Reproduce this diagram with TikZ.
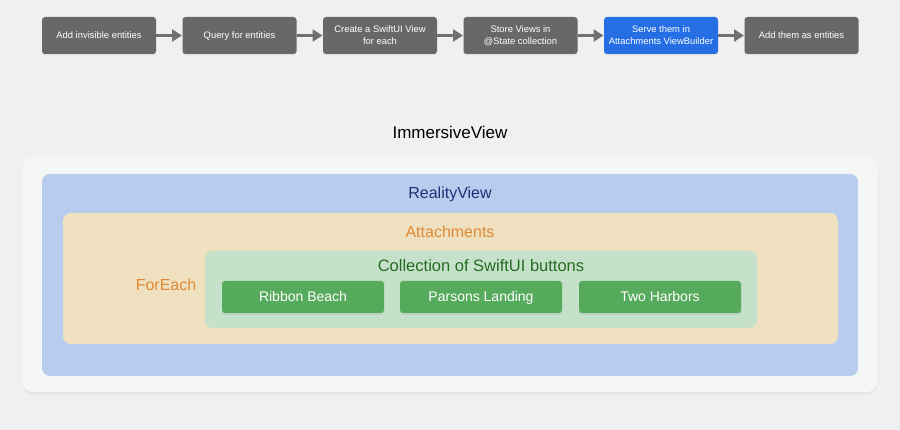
\documentclass[tikz,border=0pt]{standalone}
\usepackage{fontspec}
\setmainfont{Liberation Sans}
\usetikzlibrary{positioning,arrows.meta,shadows}
\definecolor{bggray}{RGB}{239,240,240}
\definecolor{stepgray}{RGB}{104,104,104}
\definecolor{stepblue}{RGB}{38,110,228}
\definecolor{arrowgray}{RGB}{112,112,112}
\definecolor{panelwhite}{RGB}{245,246,246}
\definecolor{realblue}{RGB}{184,204,237}
\definecolor{realtext}{RGB}{28,48,118}
\definecolor{attbeige}{RGB}{239,224,192}
\definecolor{atttext}{RGB}{224,138,52}
\definecolor{collgreen}{RGB}{197,225,201}
\definecolor{colltext}{RGB}{38,108,34}
\definecolor{btngreen}{RGB}{86,170,91}

\tikzset{
  stepbox/.style={fill=stepgray, rounded corners=3pt, minimum width=114pt, minimum height=37pt,
    inner sep=0pt, outer sep=0pt, align=center, text=white, font=\fontsize{9.4}{12}\selectfont,
    text depth=0pt,
    drop shadow={opacity=0.12, shadow xshift=0pt, shadow yshift=-1.5pt}},
  oneline/.style={text height=7pt},
  steparrow/.style={arrowgray, line width=2.8pt, -{Triangle[length=10pt, width=12pt]}, shorten >=0.5pt},
  panel/.style={inner sep=0pt, outer sep=0pt, rounded corners=8pt},
  btnbox/.style={fill=btngreen, rounded corners=3pt, minimum width=162pt, minimum height=32pt,
    inner sep=0pt, text=white, font=\fontsize{14}{16}\selectfont, text height=10pt, text depth=0pt,
    drop shadow={opacity=0.12, shadow xshift=0pt, shadow yshift=-2pt}},
}

\begin{document}
\begin{tikzpicture}[x=1pt, y=-1pt]

% Background
\fill[bggray] (0,0) rectangle (900,430);
\useasboundingbox (0,0) rectangle (900,430);

% Pipeline
\node[stepbox, oneline] (add) at (99,35.5) {Add invisible entities};
\node[stepbox, oneline, right=26.5pt of add] (query) {Query for entities};
\node[stepbox, right=26.5pt of query] (create) {Create a SwiftUI View\\for each};
\node[stepbox, right=26.5pt of create] (store) {Store Views in\\@State collection};
\node[stepbox, fill=stepblue, right=26.5pt of store] (serve) {Serve them in\\Attachments ViewBuilder};
\node[stepbox, oneline, right=26.5pt of serve] (addent) {Add them as entities};

\draw[steparrow] (add) -- (query);
\draw[steparrow] (query) -- (create);
\draw[steparrow] (create) -- (store);
\draw[steparrow] (store) -- (serve);
\draw[steparrow] (serve) -- (addent);

% Title
\node[font=\fontsize{17}{20}\selectfont] (immersive) at (450,132) {ImmersiveView};

% Nested views
\node[panel, rounded corners=10pt, fill=panelwhite, minimum width=854pt, minimum height=235pt,
  drop shadow={opacity=0.08, shadow xshift=0pt, shadow yshift=-3pt}] (outer) at (450,274.5) {};
\node[panel, fill=realblue, minimum width=816pt, minimum height=202pt] (reality) at (450,275) {};
\node[panel, fill=attbeige, minimum width=775pt, minimum height=131pt] (attach) at (450.5,278.5) {};
\node[panel, fill=collgreen, minimum width=552pt, minimum height=77pt] (coll) at (481,289.5) {};

% Labels
\node[text=realtext, font=\fontsize{16}{19}\selectfont] (realitylbl) at (450,194) {RealityView};
\node[text=atttext, font=\fontsize{16}{19}\selectfont] (attachlbl) at (450,232) {Attachments};
\node[text=atttext, font=\fontsize{16}{19}\selectfont] (foreachlbl) at (166,285) {ForEach};
\node[text=colltext, font=\fontsize{16.5}{19}\selectfont] (colllbl) at (481,266) {Collection of SwiftUI buttons};

% Buttons
\node[btnbox] (ribbon) at (303,297) {Ribbon Beach};
\node[btnbox] (parsons) at (481,297) {Parsons Landing};
\node[btnbox] (harbors) at (660,297) {Two Harbors};

\end{tikzpicture}
\end{document}
